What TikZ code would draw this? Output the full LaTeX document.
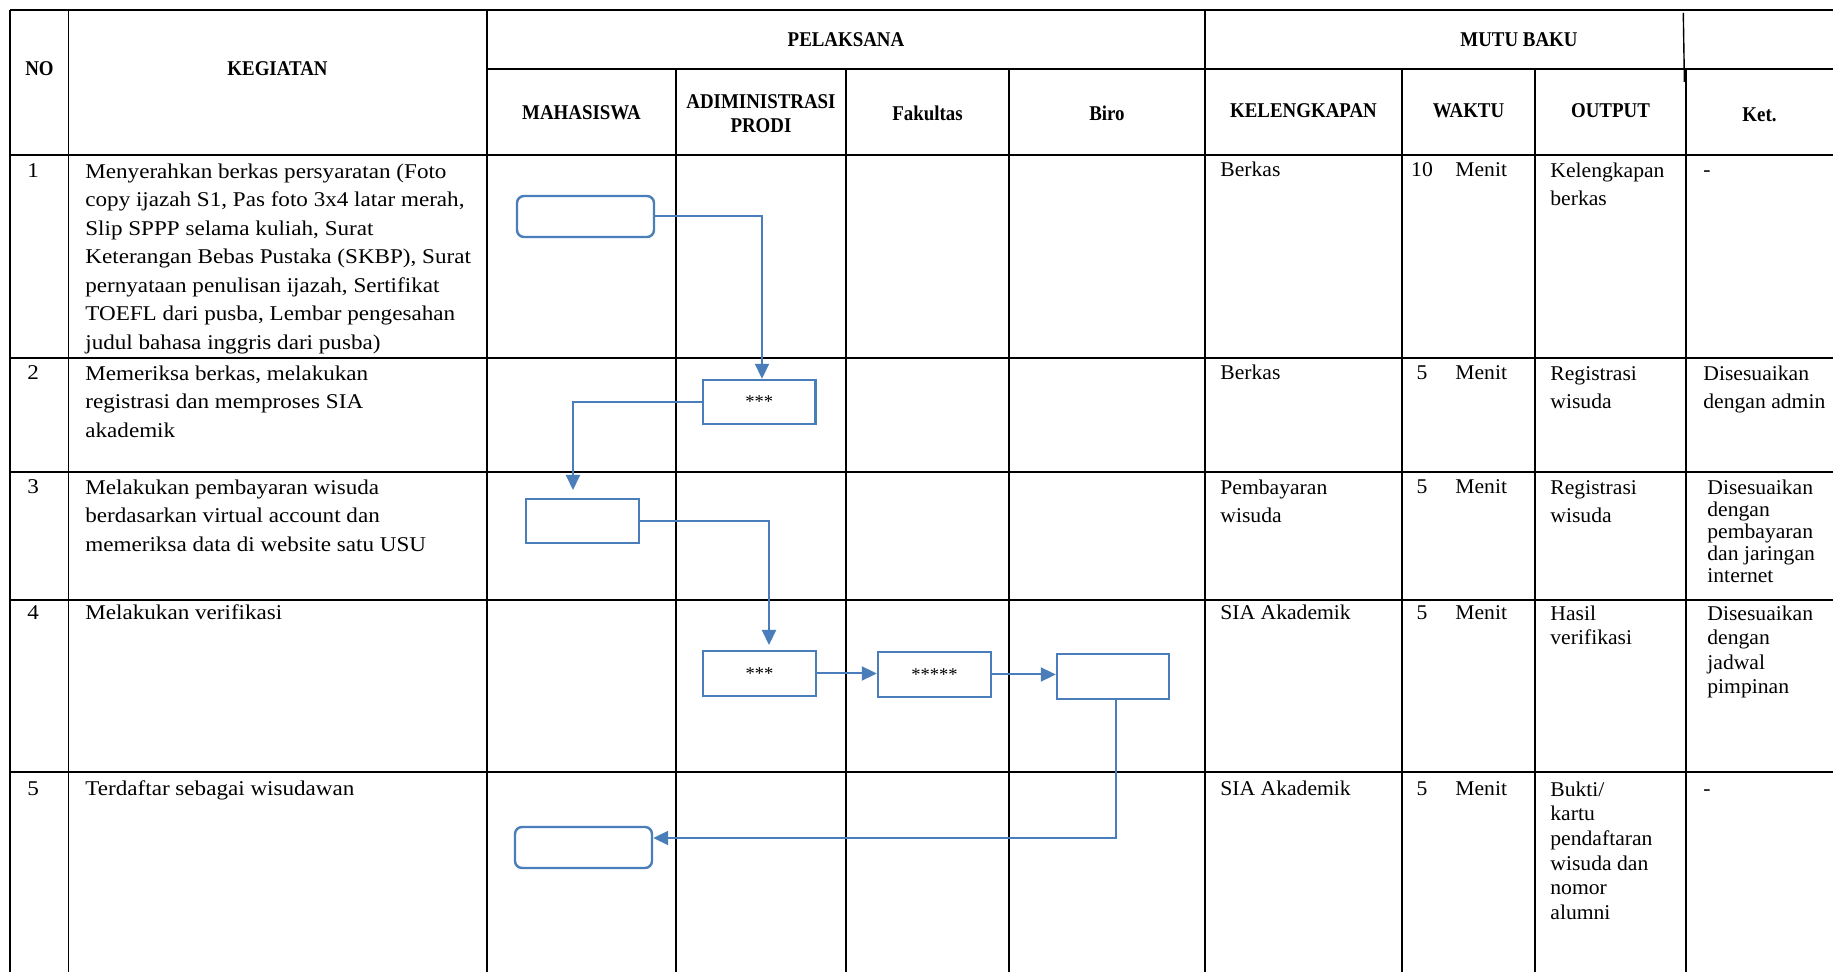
\documentclass[tikz,border=0pt]{standalone}
\usepackage{fontspec}
\setmainfont{Liberation Serif}[FakeStretch=1.03]
\newfontfamily\widefam{Liberation Serif}[FakeStretch=1.1]
\newfontfamily\hdfont{Liberation Serif}[FakeStretch=0.9]
\usetikzlibrary{arrows.meta}
\definecolor{flow}{RGB}{74,126,187}
\newcommand\bodyfnt{\fontsize{10.5}{14.25}\selectfont}
\newcommand\headfnt{\hdfont\bfseries\fontsize{10.5}{12}\selectfont}
\tikzset{
  tablerule/.style={line width=0.7pt, black},
  flowbox/.style={draw=flow, fill=white, line width=1.2pt, rectangle, inner sep=0pt, font=\fontsize{9}{10}\selectfont},
  roundbox/.style={flowbox, rounded corners=3.5pt},
  conn/.style={draw=flow, line width=1pt, -{Triangle[length=7.5pt,width=7pt]}},
  hd/.style={inner sep=0pt, align=center, font=\headfnt},
  rcell/.style={anchor=north west, inner sep=0pt, align=left, font=\fontsize{10.5}{#1}\selectfont, yshift={0.7*#1pt}},
  lcell/.style={anchor=north west, inner sep=0pt, align=left, font=\widefam\fontsize{10.5}{#1}\selectfont, yshift={0.7*#1pt}},
  one/.style={anchor=base west, inner sep=0pt, font=\bodyfnt},
  lone/.style={anchor=base west, inner sep=0pt, font=\widefam\bodyfnt},
  num/.style={anchor=base, inner sep=0pt, font=\bodyfnt},
}
\begin{document}
\begin{tikzpicture}[x=0.5pt,y=-0.5pt]
\useasboundingbox (0,0) rectangle (1833,972);
\fill[white] (0,0) rectangle (1833,972);
% horizontal rules
\draw[tablerule] (10,10) -- (1833,10);
\draw[tablerule] (487,69) -- (1833,69);
\draw[tablerule] (10,155) -- (1833,155);
\draw[tablerule] (10,358) -- (1833,358);
\draw[tablerule] (10,472) -- (1833,472);
\draw[tablerule] (10,600) -- (1833,600);
\draw[tablerule] (10,772) -- (1833,772);
% vertical rules
\draw[tablerule] (10,10) -- (10,972);
\draw[tablerule] (68.5,10) -- (68.5,972);
\draw[tablerule] (487,10) -- (487,972);
\draw[tablerule] (676,69) -- (676,972);
\draw[tablerule] (846,69) -- (846,972);
\draw[tablerule] (1009,69) -- (1009,972);
\draw[tablerule] (1205,10) -- (1205,972);
\draw[tablerule] (1402,69) -- (1402,972);
\draw[tablerule] (1535,69) -- (1535,972);
\draw[tablerule] (1686,69) -- (1686,972);
\draw[tablerule] (1683.3,13) -- (1684.4,82);
% headers
\node[hd] (hNO) at (39.5,69) {NO};
\node[hd] (hKeg) at (277.5,69) {KEGIATAN};
\node[hd] (hPel) at (846,40) {PELAKSANA};
\node[hd] (hMutu) at (1519,40) {MUTU BAKU};
\node[hd] (hMhs) at (581.5,113) {MAHASISWA};
\node[hd] (hAdm) at (761,114) {ADIMINISTRASI\\PRODI};
\node[hd] (hFak) at (927.5,113) {Fakultas};
\node[hd] (hBiro) at (1107,113) {Biro};
\node[hd] (hKel) at (1303.5,111) {KELENGKAPAN};
\node[hd] (hWkt) at (1468.5,111) {WAKTU};
\node[hd] (hOut) at (1610.5,111) {OUTPUT};
\node[hd] (hKet) at (1759.5,115) {Ket.};
% row 1
\node[lone] (n1) at (27,178) {1};
\node[lcell=14.25] (k1) at (85,178) {\strut Menyerahkan berkas persyaratan (Foto\\copy ijazah S1, Pas foto 3x4 latar merah,\\Slip SPPP selama kuliah, Surat\\Keterangan Bebas Pustaka (SKBP), Surat\\pernyataan penulisan ijazah, Sertifikat\\TOEFL dari pusba, Lembar pengesahan\\judul bahasa inggris dari pusba)};
\node[one] (kel1) at (1220,177) {Berkas};
\node[num] (w1a) at (1422,177) {10};
\node[one] (w1b) at (1455,177) {Menit};
\node[rcell=14] (o1) at (1550,177) {\strut Kelengkapan\\berkas};
\node[one] (ket1) at (1703,177) {-};
% row 2
\node[lone] (n2) at (27,380) {2};
\node[lcell=14.25] (k2) at (85,380) {\strut Memeriksa berkas, melakukan\\registrasi dan memproses SIA\\akademik};
\node[one] (kel2) at (1220,380) {Berkas};
\node[num] (w2a) at (1422,380) {5};
\node[one] (w2b) at (1455,380) {Menit};
\node[rcell=14.25] (o2) at (1550,380) {\strut Registrasi\\wisuda};
\node[rcell=14.25] (ket2) at (1703,380) {\strut Disesuaikan\\dengan admin};
% row 3
\node[lone] (n3) at (27,494) {3};
\node[lcell=14.25] (k3) at (85,494) {\strut Melakukan pembayaran wisuda\\berdasarkan virtual account dan\\memeriksa data di website satu USU};
\node[rcell=14.25] (kel3) at (1220,494) {\strut Pembayaran\\wisuda};
\node[num] (w3a) at (1422,494) {5};
\node[one] (w3b) at (1455,494) {Menit};
\node[rcell=14.25] (o3) at (1550,494) {\strut Registrasi\\wisuda};
\node[rcell=11] (ket3) at (1707,494) {\strut Disesuaikan\\dengan\\pembayaran\\dan jaringan\\internet};
% row 4
\node[lone] (n4) at (27,620) {4};
\node[lone] (k4) at (85,620) {Melakukan verifikasi};
\node[one] (kel4) at (1220,620) {SIA Akademik};
\node[num] (w4a) at (1422,620) {5};
\node[one] (w4b) at (1455,620) {Menit};
\node[rcell=12] (o4) at (1550,620) {\strut Hasil\\verifikasi};
\node[rcell=12.25] (ket4) at (1707,620) {\strut Disesuaikan\\dengan\\jadwal\\pimpinan};
% row 5
\node[lone] (n5) at (27,796) {5};
\node[lone] (k5) at (85,796) {Terdaftar sebagai wisudawan};
\node[one] (kel5) at (1220,796) {SIA Akademik};
\node[num] (w5a) at (1422,796) {5};
\node[one] (w5b) at (1455,796) {Menit};
\node[rcell=12.3] (o5) at (1550,796) {\strut Bukti/\\kartu\\pendaftaran\\wisuda dan\\nomor\\alumni};
\node[one] (ket5) at (1703,796) {-};
% flow boxes
\node[roundbox, minimum width=68.5pt, minimum height=20.5pt] (b1) at (585.5,216.5) {};
\node[flowbox, minimum width=56.25pt, minimum height=22pt] (b2) at (759.25,402) {***};
\node[flowbox, minimum width=56.5pt, minimum height=22pt] (b3) at (582.5,521) {};
\node[flowbox, minimum width=56.5pt, minimum height=22.5pt] (b4) at (759.5,673.5) {***};
\node[flowbox, minimum width=56.5pt, minimum height=22.5pt] (b5) at (934.5,674.5) {*****};
\node[flowbox, minimum width=56pt, minimum height=22.5pt] (b6) at (1113,676.5) {};
\node[roundbox, minimum width=68.5pt, minimum height=20.5pt] (b7) at (583.5,847.5) {};
% connectors
\coordinate (c1) at (762,216.5);
\draw[conn] (b1.east) -- (c1) -- (c1 |- b2.north);
\coordinate (c2) at (573,490);
\draw[conn] (b2.west) -| (c2);
\coordinate (c3) at (769,645);
\draw[conn] (b3.east) -| (c3);
\draw[conn] (b4.east) -- (b4.east -| b5.west);
\draw[conn] (b5.east) -- (b5.east -| b6.west);
\coordinate (c6) at (1116,838);
\draw[conn] (b6.south -| c6) -- (c6) -- (c6 -| b7.east);
\end{tikzpicture}
\end{document}
